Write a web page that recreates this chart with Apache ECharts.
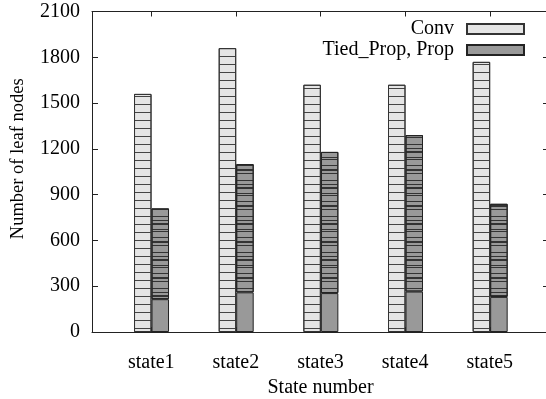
<!DOCTYPE html>
<html>
<head>
<meta charset="utf-8">
<script src="https://cdn.jsdelivr.net/npm/echarts@6/dist/echarts.min.js"></script>
<style>html,body{margin:0;padding:0;background:#fff}#c{width:546px;height:399px}</style>
</head>
<body>
<div id="c"></div>
<script>
var categories = ['state1', 'state2', 'state3', 'state4', 'state5'];
var convValues = [1560, 1860, 1620, 1620, 1770];
var tiedPropValues = [215, 260, 255, 265, 230];
var propTotals = [810, 1100, 1180, 1290, 840];
var yTicks = [0, 300, 600, 900, 1200, 1500, 1800, 2100];

var FONT = 'Liberation Serif';
var FS = 20;
var idx = categories.map(function (c, i) { return i; });
var propValues = idx.map(function (i) { return propTotals[i] - tiedPropValues[i]; });

var chart = echarts.init(document.getElementById('c'), null, { renderer: 'canvas' });
var frameLine = { show: true, onZero: false, lineStyle: { color: '#222', width: 1 } };
var legendText = { fontFamily: FONT, fontSize: FS, color: '#000', padding: [0, 8, 0, 0] };
chart.setOption({
  animation: false,
  backgroundColor: '#fff',
  grid: [
    { left: 92, right: -3, top: 11.5, bottom: 67, containLabel: false, outerBoundsMode: 'none' },
    { left: 109.2, right: 13.5, top: 11.5, bottom: 67, containLabel: false, outerBoundsMode: 'none' }
  ],
  legend: [
    {
      data: ['Conv'], right: 21, top: 19, orient: 'vertical', align: 'right', icon: 'rect',
      itemWidth: 57, itemHeight: 10, padding: 0, selectedMode: false,
      textStyle: legendText, itemStyle: { decal: 'none' }
    },
    {
      data: ['Tied_Prop, Prop'], right: 21, top: 40, orient: 'vertical', align: 'right', icon: 'rect',
      itemWidth: 57, itemHeight: 10, padding: 0, selectedMode: false,
      textStyle: legendText, itemStyle: { decal: 'none' }
    }
  ],
  xAxis: [
    {
      type: 'value', gridIndex: 0, min: -0.7, max: 4.7, position: 'bottom',
      name: 'State number', nameLocation: 'middle', nameGap: 46,
      nameTextStyle: { fontFamily: FONT, fontSize: FS, color: '#000' },
      axisLine: frameLine,
      axisTick: { show: true, inside: true, length: 5, customValues: idx, lineStyle: { color: '#222' } },
      axisLabel: {
        show: true, customValues: idx, margin: 21,
        fontFamily: FONT, fontSize: FS, color: '#000',
        formatter: function (v) { return categories[Math.round(v)] || ''; }
      },
      splitLine: { show: false }
    },
    {
      type: 'value', gridIndex: 0, min: -0.7, max: 4.7, position: 'top',
      axisLine: frameLine,
      axisTick: { show: true, inside: true, length: 5, customValues: idx, lineStyle: { color: '#222' } },
      axisLabel: { show: false },
      splitLine: { show: false }
    },
    {
      type: 'category', gridIndex: 1, data: categories, position: 'bottom',
      axisLine: { show: false }, axisTick: { show: false }, axisLabel: { show: false },
      splitLine: { show: false }
    }
  ],
  yAxis: [
    {
      type: 'value', gridIndex: 0, min: 0, max: 2100, interval: 300, position: 'left',
      name: 'Number of leaf nodes', nameLocation: 'middle', nameGap: 64,
      nameTextStyle: { fontFamily: FONT, fontSize: 18.5, color: '#000', padding: [0, 0, 0, 26] },
      axisLine: frameLine,
      axisTick: { show: true, inside: true, length: 6, lineStyle: { color: '#222' } },
      axisLabel: {
        margin: 12, fontFamily: FONT, fontSize: FS, color: '#000',
        customValues: yTicks,
        formatter: function (v) { return String(v); }
      },
      splitLine: { show: false }
    },
    {
      type: 'value', gridIndex: 0, min: 0, max: 2100, interval: 300, position: 'right',
      axisLine: frameLine,
      axisTick: { show: true, inside: true, length: 6, lineStyle: { color: '#222' } },
      axisLabel: { show: false },
      splitLine: { show: false }
    },
    {
      type: 'value', gridIndex: 1, min: 0, max: 2100, show: false,
      splitLine: { show: false }
    }
  ],
  series: [
    {
      name: 'Conv', type: 'bar', xAxisIndex: 2, yAxisIndex: 2,
      barWidth: 17.5, barGap: '0%',
      data: convValues,
      itemStyle: {
        color: '#e5e5e5', borderColor: '#333', borderWidth: 1,
        decal: { symbol: 'rect', symbolSize: 1, color: '#444', dashArrayX: [1, 0], dashArrayY: [1, 7] }
      }
    },
    {
      name: 'Tied_Prop', type: 'bar', stack: 'p', xAxisIndex: 2, yAxisIndex: 2,
      barWidth: 17.5, barGap: '0%',
      data: tiedPropValues,
      itemStyle: { color: '#999999', borderColor: '#222', borderWidth: 1 }
    },
    {
      name: 'Tied_Prop, Prop', type: 'bar', stack: 'p', xAxisIndex: 2, yAxisIndex: 2,
      barWidth: 17.5, barGap: '0%',
      data: propValues,
      itemStyle: {
        color: '#999999', borderColor: '#222', borderWidth: 1,
        decal: { symbol: 'rect', symbolSize: 1, color: '#333', dashArrayX: [1, 0], dashArrayY: [1, 3, 1, 2, 2, 4, 1, 1, 1, 5, 1, 3, 2, 2, 1, 6] }
      }
    }
  ]
});
</script>
</body>
</html>
